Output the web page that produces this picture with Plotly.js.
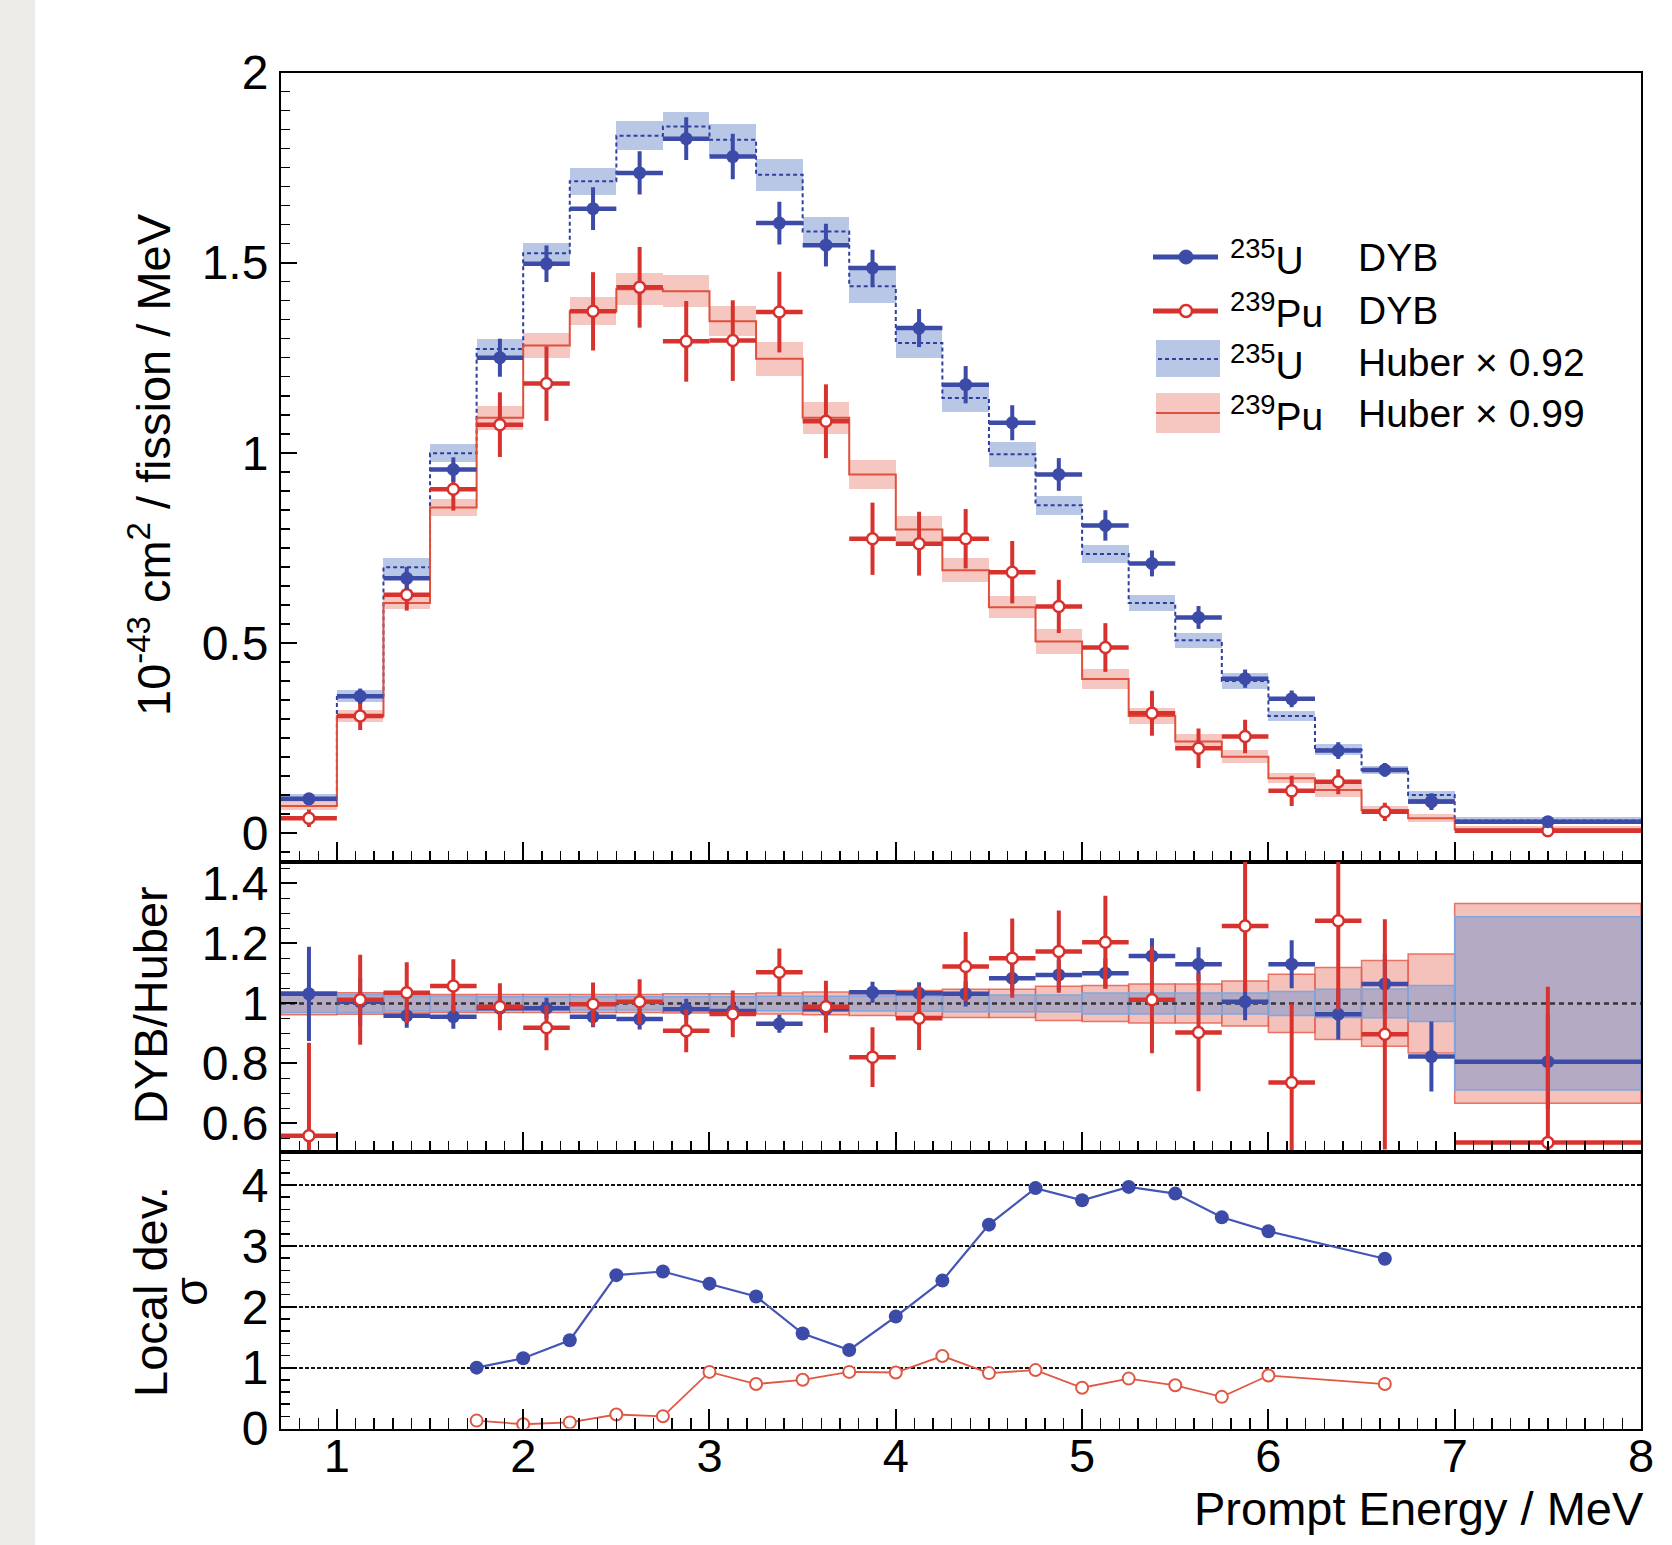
<!DOCTYPE html>
<html>
<head>
<meta charset="utf-8">
<script src="https://cdn.plot.ly/plotly-3.0.1.min.js"></script>
<style>html,body{margin:0;padding:0;background:#fff;}#chart{width:1672px;height:1545px;}</style>
</head>
<body>
<div id="chart"></div>
<script>
// ---------- data ----------
const binEdges = [0.7, 1.0, 1.25, 1.5, 1.75, 2.0, 2.25, 2.5, 2.75, 3.0, 3.25, 3.5, 3.75, 4.0, 4.25, 4.5, 4.75, 5.0, 5.25, 5.5, 5.75, 6.0, 6.25, 6.5, 6.75, 7.0, 8.0];
const binCenters = [0.85, 1.125, 1.375, 1.625, 1.875, 2.125, 2.375, 2.625, 2.875, 3.125, 3.375, 3.625, 3.875, 4.125, 4.375, 4.625, 4.875, 5.125, 5.375, 5.625, 5.875, 6.125, 6.375, 6.625, 6.875, 7.5];

const u235DYB    = [0.090, 0.360, 0.670, 0.956, 1.250, 1.497, 1.642, 1.736, 1.826, 1.779, 1.604, 1.546, 1.486, 1.328, 1.179, 1.079, 0.943, 0.809, 0.709, 0.567, 0.406, 0.353, 0.217, 0.166, 0.083, 0.030];
const u235DYBErr = [0.010, 0.020, 0.030, 0.032, 0.050, 0.048, 0.056, 0.057, 0.056, 0.060, 0.056, 0.056, 0.048, 0.050, 0.049, 0.046, 0.043, 0.040, 0.034, 0.030, 0.024, 0.022, 0.022, 0.018, 0.022, 0.010];
const u235Huber    = [0.092, 0.361, 0.699, 0.999, 1.273, 1.525, 1.714, 1.834, 1.858, 1.823, 1.731, 1.582, 1.438, 1.289, 1.144, 0.996, 0.862, 0.734, 0.605, 0.507, 0.400, 0.308, 0.220, 0.166, 0.100, 0.033];
const u235HuberErr = [0.010, 0.015, 0.024, 0.024, 0.027, 0.027, 0.035, 0.038, 0.038, 0.042, 0.042, 0.038, 0.044, 0.039, 0.036, 0.033, 0.025, 0.024, 0.021, 0.020, 0.021, 0.012, 0.015, 0.011, 0.011, 0.008];

const pu239DYB    = [0.039, 0.308, 0.627, 0.904, 1.074, 1.182, 1.372, 1.435, 1.293, 1.295, 1.370, 1.083, 0.774, 0.761, 0.774, 0.686, 0.596, 0.488, 0.315, 0.223, 0.254, 0.111, 0.135, 0.056, 0.083, 0.006];
const pu239DYBErr = [0.023, 0.037, 0.042, 0.056, 0.085, 0.098, 0.103, 0.106, 0.106, 0.106, 0.106, 0.097, 0.095, 0.084, 0.078, 0.082, 0.070, 0.064, 0.059, 0.052, 0.044, 0.040, 0.033, 0.024, 0.020, 0.015];
const pu239Huber    = [0.071, 0.308, 0.605, 0.856, 1.092, 1.282, 1.372, 1.430, 1.425, 1.346, 1.247, 1.092, 0.943, 0.798, 0.691, 0.594, 0.504, 0.405, 0.308, 0.241, 0.201, 0.144, 0.113, 0.061, 0.039, 0.010];
const pu239HuberErr = [0.010, 0.015, 0.015, 0.023, 0.031, 0.033, 0.037, 0.042, 0.042, 0.039, 0.045, 0.042, 0.037, 0.036, 0.032, 0.029, 0.032, 0.027, 0.020, 0.020, 0.018, 0.013, 0.019, 0.011, 0.010, 0.008];

const u235Ratio    = [1.032, 1.006, 0.959, 0.956, 0.984, 0.984, 0.956, 0.948, 0.981, 0.975, 0.932, 0.981, 1.037, 1.034, 1.032, 1.084, 1.095, 1.101, 1.158, 1.131, 1.006, 1.131, 0.964, 1.065, 0.823, 0.806];
const u235RatioErr = [0.157, 0.080, 0.040, 0.040, 0.035, 0.035, 0.035, 0.035, 0.035, 0.035, 0.030, 0.035, 0.035, 0.037, 0.042, 0.047, 0.050, 0.050, 0.059, 0.056, 0.062, 0.080, 0.084, 0.099, 0.117, 0.158];
const pu239Ratio    = [0.559, 1.012, 1.036, 1.058, 0.989, 0.919, 0.997, 1.006, 0.909, 0.965, 1.104, 0.989, 0.821, 0.951, 1.123, 1.151, 1.173, 1.204, 1.012, 0.903, 1.258, 0.736, 1.276, 0.897, null, 0.536];
const pu239RatioErr = [0.310, 0.150, 0.101, 0.089, 0.078, 0.075, 0.073, 0.075, 0.072, 0.078, 0.079, 0.087, 0.100, 0.106, 0.115, 0.132, 0.137, 0.155, 0.178, 0.196, 0.220, 0.264, 0.298, 0.384, null, 0.520];
const u235RatioBand  = [0.030, 0.030, 0.025, 0.025, 0.022, 0.022, 0.022, 0.022, 0.022, 0.022, 0.024, 0.024, 0.025, 0.026, 0.028, 0.028, 0.028, 0.035, 0.035, 0.035, 0.035, 0.040, 0.047, 0.048, 0.060, 0.289];
const pu239RatioBand = [0.038, 0.036, 0.032, 0.030, 0.030, 0.030, 0.030, 0.030, 0.032, 0.032, 0.035, 0.038, 0.040, 0.043, 0.047, 0.047, 0.057, 0.060, 0.065, 0.065, 0.075, 0.097, 0.120, 0.143, 0.165, 0.333];

const devEnergy = [1.75, 2.0, 2.25, 2.5, 2.75, 3.0, 3.25, 3.5, 3.75, 4.0, 4.25, 4.5, 4.75, 5.0, 5.25, 5.5, 5.75, 6.0, 6.625];
const u235Dev   = [1.00, 1.155, 1.45, 2.52, 2.58, 2.38, 2.17, 1.56, 1.29, 1.84, 2.43, 3.35, 3.95, 3.75, 3.97, 3.86, 3.47, 3.24, 2.79];
const pu239Dev  = [0.13, 0.07, 0.10, 0.23, 0.20, 0.93, 0.73, 0.80, 0.93, 0.92, 1.19, 0.91, 0.96, 0.67, 0.82, 0.71, 0.52, 0.87, 0.73];

const ratioRefX = [0.7, 8.0];
const ratioRefY = [1, 1];

const xTickVals = [1, 2, 3, 4, 5, 6, 7, 8];
const legendIsotopes = ['<sup>235</sup>U', '<sup>239</sup>Pu', '<sup>235</sup>U', '<sup>239</sup>Pu'];
const legendLabels = ['DYB', 'DYB', 'Huber \u00d7 0.92', 'Huber \u00d7 0.99'];

// ---------- helpers ----------
const W = 1672, H = 1545;
const PX = x => x / W;
const PY = y => 1 - y / H;
const halfW = binCenters.map((c, i) => (binEdges[i + 1] - binEdges[i]) / 2);
const fullW = halfW.map(h => 2 * h);
const stepY = arr => arr.concat([arr[arr.length - 1]]);

const BLUE = '#3c4aa8';
const RED = '#d8322e';
const FONT = 'Liberation Sans, Arial, Helvetica, sans-serif';

function band(vals, errs, xa, ya, fill, lineColor, lw) {
  return {
    type: 'bar', x: binCenters, width: fullW,
    base: vals.map((v, i) => v - errs[i]),
    y: errs.map(e => 2 * e),
    xaxis: xa, yaxis: ya,
    marker: { color: fill, line: { color: lineColor || 'rgba(0,0,0,0)', width: lw || 0 } },
    hoverinfo: 'skip'
  };
}
function points(xs, ys, ex, ey, xa, ya, color, open) {
  return {
    type: 'scatter', mode: 'markers', x: xs, y: ys, xaxis: xa, yaxis: ya,
    marker: open ? { symbol: 'circle', size: 11, color: 'white', line: { color: color, width: 2.5 } }
                 : { symbol: 'circle', size: 13, color: color, line: { width: 0 } },
    error_x: { type: 'data', array: ex, visible: true, thickness: 4.5, width: 0, color: color },
    error_y: { type: 'data', array: ey, visible: true, thickness: 4, width: 0, color: color }
  };
}

const traces = [
  // top panel
  band(u235Huber, u235HuberErr, 'x', 'y', 'rgba(100,130,200,0.45)'),
  band(pu239Huber, pu239HuberErr, 'x', 'y', 'rgba(233,120,105,0.42)'),
  { type: 'scatter', mode: 'lines', x: binEdges, y: stepY(u235Huber), xaxis: 'x', yaxis: 'y',
    line: { shape: 'hv', color: '#2f3f9e', width: 2, dash: '4px,3px' } },
  { type: 'scatter', mode: 'lines', x: binEdges, y: stepY(pu239Huber), xaxis: 'x', yaxis: 'y',
    line: { shape: 'hv', color: '#e0503c', width: 2 } },
  points(binCenters, pu239DYB, halfW, pu239DYBErr, 'x', 'y', RED, true),
  points(binCenters, u235DYB, halfW, u235DYBErr, 'x', 'y', BLUE, false),
  // ratio panel
  band(binCenters.map(() => 1), pu239RatioBand, 'x2', 'y2', 'rgba(233,120,105,0.45)', 'rgba(228,95,80,0.85)', 1.5),
  band(binCenters.map(() => 1), u235RatioBand, 'x2', 'y2', 'rgba(115,146,205,0.5)', '#7fa6e0', 1.5),
  { type: 'scatter', mode: 'lines', x: ratioRefX, y: ratioRefY, xaxis: 'x2', yaxis: 'y2',
    line: { color: '#333333', width: 2.5, dash: '5px,4px' } },
  points(binCenters, u235Ratio, halfW, u235RatioErr, 'x2', 'y2', BLUE, false),
  points(binCenters, pu239Ratio, halfW, pu239RatioErr, 'x2', 'y2', RED, true),
  // local deviation panel
  { type: 'scatter', mode: 'lines+markers', x: devEnergy, y: u235Dev, xaxis: 'x3', yaxis: 'y3',
    line: { color: '#4555b5', width: 2.2 }, marker: { size: 14, color: '#3c4aa8' } },
  { type: 'scatter', mode: 'lines+markers', x: devEnergy, y: pu239Dev, xaxis: 'x3', yaxis: 'y3',
    line: { color: '#e05844', width: 1.8 },
    marker: { size: 12, color: 'white', line: { color: '#e05844', width: 2 } } }
];

const xDomain = [PX(281), PX(1641)];
function xAxis(anchor, labels) {
  return {
    domain: xDomain, range: [0.7, 8], anchor: anchor, showline: true, mirror: true,
    linecolor: 'black', linewidth: 2, ticks: 'inside', ticklen: 20, tickwidth: 2, tickcolor: 'black',
    tickvals: xTickVals, showticklabels: labels, zeroline: false, showgrid: false,
    tickfont: { size: 47, family: FONT, color: 'black' }, ticklabelstandoff: -15,
    minor: { ticks: 'inside', ticklen: 11, tickwidth: 1.5, tickcolor: 'black', dtick: 0.1, tick0: 0, showgrid: false }
  };
}
function yAxis(anchor, domain, range, dtick, minorDtick, extra) {
  return Object.assign({
    domain: domain, range: range, anchor: anchor, showline: true, mirror: true,
    linecolor: 'black', linewidth: 2, ticks: 'inside', ticklen: 16, tickwidth: 2, tickcolor: 'black',
    dtick: dtick, tick0: 0, zeroline: false, showgrid: false,
    tickfont: { size: 48, family: FONT, color: 'black' }, ticklabelstandoff: 1,
    minor: { ticks: 'inside', ticklen: 9, tickwidth: 1.5, tickcolor: 'black', dtick: minorDtick, tick0: 0, showgrid: false }
  }, extra || {});
}

const shapes = [
  { type: 'rect', xref: 'paper', yref: 'paper', x0: 0, x1: PX(35), y0: 0, y1: 1,
    fillcolor: '#ecebe7', line: { width: 0 }, layer: 'below' },
  // legend symbols
  { type: 'line', xref: 'paper', yref: 'paper', x0: PX(1153), x1: PX(1218), y0: PY(257), y1: PY(257), line: { color: BLUE, width: 5 } },
  { type: 'circle', xref: 'paper', yref: 'paper', x0: PX(1179), x1: PX(1193), y0: PY(264), y1: PY(250), fillcolor: BLUE, line: { color: BLUE, width: 1 } },
  { type: 'line', xref: 'paper', yref: 'paper', x0: PX(1153), x1: PX(1218), y0: PY(311), y1: PY(311), line: { color: RED, width: 5 } },
  { type: 'circle', xref: 'paper', yref: 'paper', x0: PX(1180), x1: PX(1192), y0: PY(317), y1: PY(305), fillcolor: 'white', line: { color: RED, width: 2.5 } },
  { type: 'rect', xref: 'paper', yref: 'paper', x0: PX(1156), x1: PX(1220), y0: PY(377), y1: PY(340), fillcolor: 'rgba(100,130,200,0.45)', line: { width: 0 } },
  { type: 'line', xref: 'paper', yref: 'paper', x0: PX(1158), x1: PX(1218), y0: PY(359), y1: PY(359), line: { color: '#2f3f9e', width: 2, dash: '4px,3px' } },
  { type: 'rect', xref: 'paper', yref: 'paper', x0: PX(1156), x1: PX(1220), y0: PY(433), y1: PY(393), fillcolor: 'rgba(233,120,105,0.42)', line: { width: 0 } },
  { type: 'line', xref: 'paper', yref: 'paper', x0: PX(1156), x1: PX(1220), y0: PY(413), y1: PY(413), line: { color: '#e0503c', width: 2 } }
];

const legendRowsY = [257, 311, 362, 414];
const annotations = [];
legendRowsY.forEach((yy, i) => {
  annotations.push({ xref: 'paper', yref: 'paper', x: PX(1228), y: PY(yy), xanchor: 'left', yanchor: 'middle',
    text: legendIsotopes[i], showarrow: false, font: { size: 39, family: FONT, color: 'black' } });
  annotations.push({ xref: 'paper', yref: 'paper', x: PX(1356), y: PY(yy), xanchor: 'left', yanchor: 'middle',
    text: legendLabels[i], showarrow: false, font: { size: 39, family: FONT, color: 'black' } });
});
const titleFont = { size: 47, family: FONT, color: 'black' };
annotations.push(
  { xref: 'paper', yref: 'paper', x: PX(150), y: PY(465), textangle: -90, xanchor: 'center', yanchor: 'middle',
    text: '10<sup>-43</sup> cm<sup>2</sup> / fission / MeV', showarrow: false, font: titleFont },
  { xref: 'paper', yref: 'paper', x: PX(150), y: PY(1005), textangle: -90, xanchor: 'center', yanchor: 'middle',
    text: 'DYB/Huber', showarrow: false, font: titleFont },
  { xref: 'paper', yref: 'paper', x: PX(150), y: PY(1292), textangle: -90, xanchor: 'center', yanchor: 'middle',
    text: 'Local dev.', showarrow: false, font: titleFont },
  { xref: 'paper', yref: 'paper', x: PX(190), y: PY(1292), textangle: -90, xanchor: 'center', yanchor: 'middle',
    text: '\u03c3', showarrow: false, font: titleFont },
  { xref: 'paper', yref: 'paper', x: PX(1646), y: PY(1508), xanchor: 'right', yanchor: 'middle',
    text: 'Prompt Energy / MeV', showarrow: false, font: titleFont }
);

const layout = {
  width: W, height: H, margin: { l: 0, r: 0, t: 0, b: 0, pad: 0 },
  paper_bgcolor: 'white', plot_bgcolor: 'rgba(0,0,0,0)', showlegend: false, barmode: 'overlay', bargap: 0,
  font: { family: FONT, color: 'black' },
  xaxis: xAxis('y', false),
  xaxis2: xAxis('y2', false),
  xaxis3: xAxis('y3', true),
  yaxis: yAxis('x', [PY(861.6), PY(72.5)], [-0.075, 2.0], 0.5, 0.05),
  yaxis2: yAxis('x2', [PY(1151.6), PY(861.6)], [0.506, 1.473], 0.2, 0.05),
  yaxis3: yAxis('x3', [PY(1428.5), PY(1151.6)], [0, 4.55], 1, 0.2,
    { showgrid: true, gridcolor: '#111111', gridwidth: 1.8, griddash: '4px,2px' }),
  shapes: shapes,
  annotations: annotations
};

Plotly.newPlot('chart', traces, layout, { staticPlot: true, displayModeBar: false });
</script>
</body>
</html>
